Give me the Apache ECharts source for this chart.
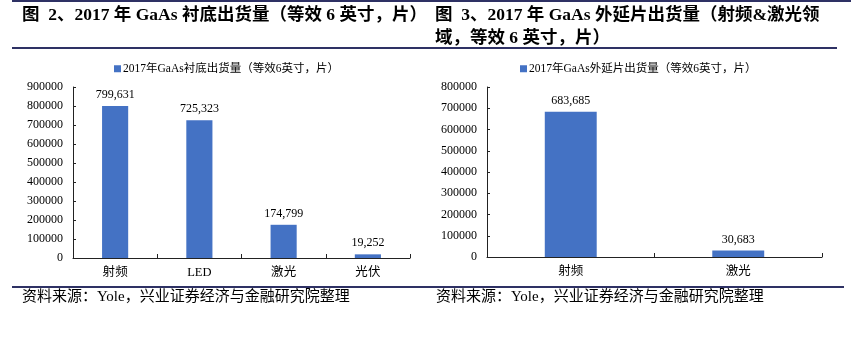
<!DOCTYPE html>
<html>
<head>
<meta charset="utf-8">
<script src="https://cdn.jsdelivr.net/npm/echarts@6/dist/echarts.min.js"></script>
<style>
  html, body { margin: 0; padding: 0; background: #fff; }
  #chart { width: 851px; height: 341px; }
</style>
</head>
<body>
<div id="chart"></div>
<script>
// GaAs substrate shipments, 2017 (6-inch equivalent wafers)
const substrateCategories = ['射频', 'LED', '激光', '光伏'];
const substrateValues = [799631, 725323, 174799, 19252];
const substrateTicks = { min: 0, max: 900000, interval: 100000 };

// GaAs epitaxial wafer shipments, 2017 (RF & laser, 6-inch equivalent)
const epiCategories = ['射频', '激光'];
const epiValues = [683685, 30683];
const epiTicks = { min: 0, max: 800000, interval: 100000 };

const substrateSeriesName = '2017年GaAs衬底出货量（等效6英寸，片）';
const epiSeriesName = '2017年GaAs外延片出货量（等效6英寸，片）';

const SERIF = '"Liberation Serif", "Times New Roman", "Noto Sans CJK SC", serif';
const RULE = '#2E3164';
const BAR = '#4472C4';

const fmtThousands = v => String(v).replace(/\B(?=(\d{3})+(?!\d))/g, ',');

function valueAxis(gridIndex, ticks) {
  return {
    type: 'value', gridIndex,
    min: ticks.min, max: ticks.max, interval: ticks.interval,
    axisLine: { show: true, lineStyle: { color: '#222', width: 1 } },
    axisTick: { show: true, inside: true, length: 3, lineStyle: { color: '#222' } },
    splitLine: { show: false },
    axisLabel: {
      color: '#000', fontFamily: SERIF, fontSize: 12, margin: 10,
      formatter: v => String(v)
    }
  };
}
function categoryAxis(gridIndex, cats) {
  return {
    type: 'category', gridIndex, data: cats,
    axisLine: { lineStyle: { color: '#222', width: 1 } },
    axisTick: { show: true, inside: true, length: 4, lineStyle: { color: '#222' } },
    axisLabel: { color: '#000', fontFamily: SERIF, fontSize: 12.5, margin: 8 }
  };
}
function barSeries(name, idx, values) {
  return {
    name, type: 'bar', xAxisIndex: idx, yAxisIndex: idx,
    data: values, barWidth: '31%',
    itemStyle: { color: BAR },
    label: {
      show: true, position: 'top', distance: 5,
      color: '#000', fontFamily: SERIF, fontSize: 12,
      formatter: p => fmtThousands(p.value)
    }
  };
}

const titleFont = 'bold 17.5px ' + SERIF;
const footFont = '15px ' + SERIF;

const chart = echarts.init(document.getElementById('chart'), null, { renderer: 'canvas' });
chart.setOption({
  animation: false,
  backgroundColor: '#fff',
  grid: [
    { left: 73, top: 87, width: 337, height: 171 },
    { left: 487, top: 87, width: 335, height: 170 }
  ],
  legend: [
    {
      data: [substrateSeriesName], left: 109, top: 58,
      icon: 'rect', itemWidth: 7, itemHeight: 7, itemGap: 4,
      textStyle: { color: '#000', fontFamily: SERIF, fontSize: 11.5, padding: [0, 0, 0, -3] }
    },
    {
      data: [epiSeriesName], left: 515, top: 58,
      icon: 'rect', itemWidth: 7, itemHeight: 7, itemGap: 4,
      textStyle: { color: '#000', fontFamily: SERIF, fontSize: 11.5, padding: [0, 0, 0, -3] }
    }
  ],
  xAxis: [categoryAxis(0, substrateCategories), categoryAxis(1, epiCategories)],
  yAxis: [valueAxis(0, substrateTicks), valueAxis(1, epiTicks)],
  series: [
    barSeries(substrateSeriesName, 0, substrateValues),
    barSeries(epiSeriesName, 1, epiValues)
  ],
  graphic: [
    // header and footer rules
    { type: 'rect', shape: { x: 12, y: 0, width: 839, height: 2 }, style: { fill: RULE }, silent: true },
    { type: 'rect', shape: { x: 12, y: 47, width: 825, height: 2 }, style: { fill: RULE }, silent: true },
    { type: 'rect', shape: { x: 12, y: 286, width: 832, height: 2 }, style: { fill: RULE }, silent: true },
    // figure titles
    { type: 'text', x: 22, y: 15, style: { text: '图  2、2017 年 GaAs 衬底出货量（等效 6 英寸，片）', font: titleFont, fill: '#000', textVerticalAlign: 'middle' } },
    { type: 'text', x: 435, y: 15, style: { text: '图  3、2017 年 GaAs 外延片出货量（射频&激光领', font: titleFont, fill: '#000', textVerticalAlign: 'middle' } },
    { type: 'text', x: 435, y: 38, style: { text: '域，等效 6 英寸，片）', font: titleFont, fill: '#000', textVerticalAlign: 'middle' } },
    // sources
    { type: 'text', x: 22, y: 297, style: { text: '资料来源：Yole，兴业证券经济与金融研究院整理', font: footFont, fill: '#000', textVerticalAlign: 'middle' } },
    { type: 'text', x: 436, y: 297, style: { text: '资料来源：Yole，兴业证券经济与金融研究院整理', font: footFont, fill: '#000', textVerticalAlign: 'middle' } }
  ]
});
</script>
</body>
</html>
